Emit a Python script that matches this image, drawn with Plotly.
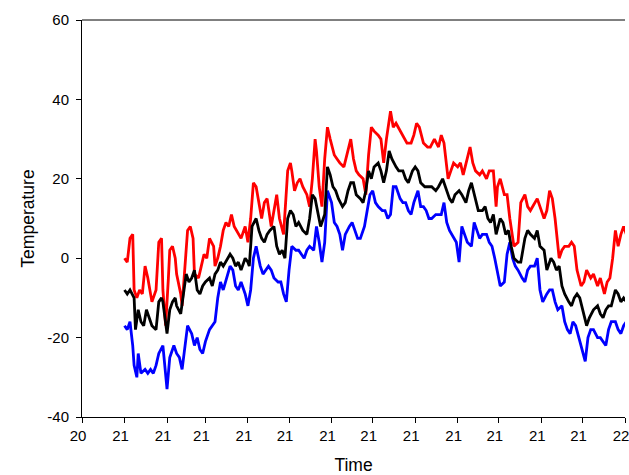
import pandas as pd
import plotly.graph_objects as go

# Time axis: monthly ticks, labelled with the two-digit year
tick_dates = pd.date_range("2020-12-01", "2022-01-01", freq="MS")
y_ticks = [-40, -20, 0, 20, 40, 60]
y_tick_labels = ["-40", "-20", "0", "20", "40", "60"]
base_date = pd.Timestamp("2020-12-01")  # day 0 of the day counts below

# Maximum temperature (red) - days since 2020-12-01
red_days = [31, 33, 35, 37, 38, 40, 42, 44, 46, 48, 51, 54, 56, 58, 59, 61, 63, 64, 66, 68, 69, 72, 73, 75, 77, 79, 81, 82, 85, 87,
            89, 91, 93, 96, 97, 99, 101, 103, 105, 107, 109, 111, 114, 116, 119, 121, 123, 125, 127, 130, 131, 133, 135, 138, 140,
            142, 144, 147, 150, 152, 153, 155, 157, 159, 161, 164, 166, 168, 170, 171, 173, 175, 177, 179, 181, 184, 186, 188, 191,
            194, 196, 198, 200, 202, 205, 207, 209, 211, 213, 216, 218, 220, 222, 225, 227, 229, 232, 234, 237, 240, 242, 244, 246,
            249, 252, 254, 257, 260, 262, 264, 267, 269, 271, 274, 276, 278, 281, 283, 285, 287, 290, 292, 295, 297, 300, 302, 303,
            305, 308, 310, 312, 314, 315, 318, 320, 323, 325, 327, 330, 332, 334, 337, 339, 341, 343, 345, 348, 350, 352, 355, 357,
            359, 361, 364, 366, 368, 371, 373, 376, 378, 381, 383, 385, 387, 389, 391, 393, 395, 397]
red_vals = [0, -1, 5, 6, -8, -10, -8, -9, -2, -5, -11, -8, 4, 5, -8, -17, -5, 2, 3, 0, -4, -9, -12, -1, 7, 8, 5, -4, -5, -2,
            1, 0, 5, 3, -2, 0, 3, 7, 9, 8, 11, 8, 6, 5, 8, 4, 10, 19, 18, 12, 10, 14, 15, 8, 12,
            16, 10, 6, 22, 24, 22, 17, 19, 20, 18, 16, 13, 20, 30, 27, 18, 13, 25, 33, 30, 26, 25, 24, 23,
            27, 30, 25, 22, 21, 20, 16, 26, 33, 32, 31, 30, 24, 30, 37, 33, 34, 32, 31, 29, 29, 31, 34, 33,
            29, 28, 28, 30, 28, 31, 29, 20, 22, 24, 23, 24, 21, 25, 28, 24, 22, 21, 22, 20, 22, 22, 13, 18,
            20, 16, 16, 10, 6, 3, 4, 14, 16, 13, 12, 14, 15, 13, 10, 12, 17, 15, 10, 0, 2, 3, 3, 4,
            3, -3, -7, -6, -3, -5, -4, -7, -5, -9, -6, -5, 0, 7, 3, 6, 8, 6]

# Mean temperature (black)
black_days = [31, 33, 35, 38, 39, 41, 43, 45, 47, 49, 51, 54, 56, 58, 59, 62, 64, 66, 68, 69, 72, 74, 76, 78, 80, 82, 84, 86, 88, 90,
              93, 95, 97, 99, 101, 103, 106, 108, 110, 112, 114, 116, 119, 121, 122, 124, 127, 129, 131, 133, 135, 137, 140, 142, 144,
              146, 148, 150, 152, 154, 156, 158, 161, 164, 166, 168, 170, 172, 174, 177, 179, 181, 183, 185, 187, 190, 192, 194, 196,
              198, 200, 203, 205, 207, 209, 211, 213, 216, 218, 220, 222, 224, 226, 229, 231, 234, 236, 238, 241, 243, 245, 247, 250,
              253, 255, 258, 260, 263, 266, 268, 270, 272, 275, 277, 280, 282, 284, 287, 289, 292, 294, 296, 298, 300, 302, 305, 307,
              309, 311, 313, 315, 318, 320, 323, 325, 327, 330, 332, 334, 337, 339, 342, 344, 346, 348, 350, 352, 355, 357, 359, 361,
              363, 366, 368, 370, 373, 376, 378, 380, 382, 384, 386, 389, 391, 393, 395, 397]
black_vals = [-8, -9, -8, -10, -18, -13, -16, -17, -13, -15, -17, -18, -11, -10, -11, -19, -13, -11, -10, -12, -14, -9, -4, -6, -5, -3, -8, -9, -7, -6,
              -5, -7, -4, -3, -1, -2, 0, 1, 0, -2, -1, -3, 0, -1, -2, 8, 10, 7, 5, 4, 6, 7, 8, 3, 1,
              2, 0, 10, 12, 11, 8, 9, 7, 6, 10, 16, 15, 11, 8, 11, 23, 21, 18, 17, 15, 13, 14, 17, 19,
              19, 16, 15, 14, 17, 22, 20, 23, 24, 22, 19, 22, 27, 25, 23, 22, 22, 20, 19, 22, 23, 22, 19, 18,
              18, 18, 17, 18, 20, 17, 15, 14, 16, 17, 16, 14, 17, 19, 15, 12, 12, 13, 10, 9, 11, 6, 10, 9,
              6, 7, 3, 0, -1, -1, 5, 7, 6, 5, 7, 3, 2, -3, 0, -1, -3, -2, -7, -9, -11, -12, -10, -9,
              -10, -14, -17, -15, -13, -12, -14, -15, -13, -12, -12, -8, -9, -11, -10, -11]

# Minimum temperature (blue)
blue_days = [31, 33, 35, 37, 38, 40, 41, 43, 46, 48, 50, 52, 54, 56, 59, 61, 62, 64, 67, 69, 71, 73, 75, 77, 80, 82, 84, 86, 88, 90,
             93, 95, 97, 99, 101, 103, 106, 108, 110, 112, 114, 116, 119, 121, 123, 125, 127, 130, 132, 134, 136, 138, 140, 143, 145,
             147, 149, 151, 153, 156, 158, 160, 162, 164, 166, 169, 171, 173, 175, 177, 179, 182, 184, 186, 188, 190, 192, 195, 197,
             199, 201, 203, 206, 208, 210, 212, 214, 216, 219, 221, 223, 225, 227, 229, 232, 234, 236, 238, 240, 242, 245, 247, 249,
             251, 253, 255, 258, 260, 262, 264, 266, 268, 271, 273, 275, 277, 279, 281, 284, 286, 288, 290, 292, 295, 297, 299, 301,
             303, 305, 308, 310, 312, 314, 316, 318, 321, 323, 325, 327, 330, 332, 334, 336, 339, 341, 343, 345, 347, 350, 352, 354,
             356, 358, 360, 363, 365, 367, 369, 371, 373, 376, 378, 380, 382, 384, 386, 389, 391, 393, 395, 397]
blue_vals = [-17, -18, -16, -22, -27, -30, -24, -29, -28, -29, -28, -29, -27, -24, -22, -29, -33, -25, -22, -24, -25, -28, -23, -17, -19, -22, -20, -23, -24, -21,
             -18, -17, -16, -10, -6, -8, -4, -2, -3, -7, -8, -6, -9, -12, -8, 0, 3, -2, -4, -3, -2, -3, -5, -6, -6,
             -9, -11, -3, 3, 2, 2, 1, 0, 2, 3, 2, 8, 4, -1, 4, 17, 14, 9, 8, 6, 2, 6, 8, 9,
             7, 5, 5, 8, 12, 16, 17, 14, 13, 12, 12, 10, 11, 18, 18, 15, 14, 14, 12, 11, 14, 17, 13, 13,
             12, 10, 10, 11, 11, 11, 14, 9, 7, 5, 4, -1, 8, 6, 4, 3, 9, 7, 5, 6, 6, 4, 3, 0,
             -4, -7, -6, 1, 4, 0, -2, -3, -5, -6, -3, -2, -2, 0, -8, -11, -9, -8, -8, -11, -13, -12, -16, -18,
             -19, -16, -17, -21, -23, -26, -20, -18, -18, -20, -20, -21, -22, -18, -16, -16, -18, -19, -17, -16]


def to_dates(days):
    return base_date + pd.to_timedelta(days, unit="D")


fig = go.Figure()
fig.add_trace(go.Scatter(x=to_dates(red_days), y=red_vals, mode="lines",
                         line=dict(color="#ff0000", width=2.8), showlegend=False))
fig.add_trace(go.Scatter(x=to_dates(blue_days), y=blue_vals, mode="lines",
                         line=dict(color="#0000ff", width=2.8), showlegend=False))
fig.add_trace(go.Scatter(x=to_dates(black_days), y=black_vals, mode="lines",
                         line=dict(color="#000000", width=2.8), showlegend=False))

font_family = "Liberation Sans, Arial, sans-serif"

fig.update_layout(
    width=629, height=475,
    margin=dict(l=82, r=0, t=20, b=58),
    paper_bgcolor="white", plot_bgcolor="white",
    font=dict(family=font_family, size=15, color="#000000"),
    xaxis=dict(
        type="date", range=["2020-12-01", "2022-01-01"],
        tickmode="array", tickvals=list(tick_dates), tickformat="%y",
        ticklabelshift=-4, ticklabeloverflow="allow",
        showline=True, linecolor="black", linewidth=1, ticks="outside", ticklen=5, tickcolor="black",
        showgrid=False, zeroline=False, tickfont=dict(size=15),
        title=dict(text="Time", font=dict(size=17.5), standoff=19),
    ),
    yaxis=dict(
        range=[-40, 60], tickmode="array", tickvals=y_ticks, ticktext=y_tick_labels,
        showline=True, linecolor="black", linewidth=1, ticks="outside", ticklen=5, tickcolor="black",
        showgrid=False, zeroline=False, tickfont=dict(size=15), ticklabelstandoff=4,
        title=dict(text="Temperature", font=dict(size=17.5), standoff=8),
    ),
    shapes=[dict(type="line", xref="paper", yref="paper", x0=0, x1=1, y0=1, y1=1,
                 line=dict(color="black", width=1))],
)

fig.write_html("out.html")
